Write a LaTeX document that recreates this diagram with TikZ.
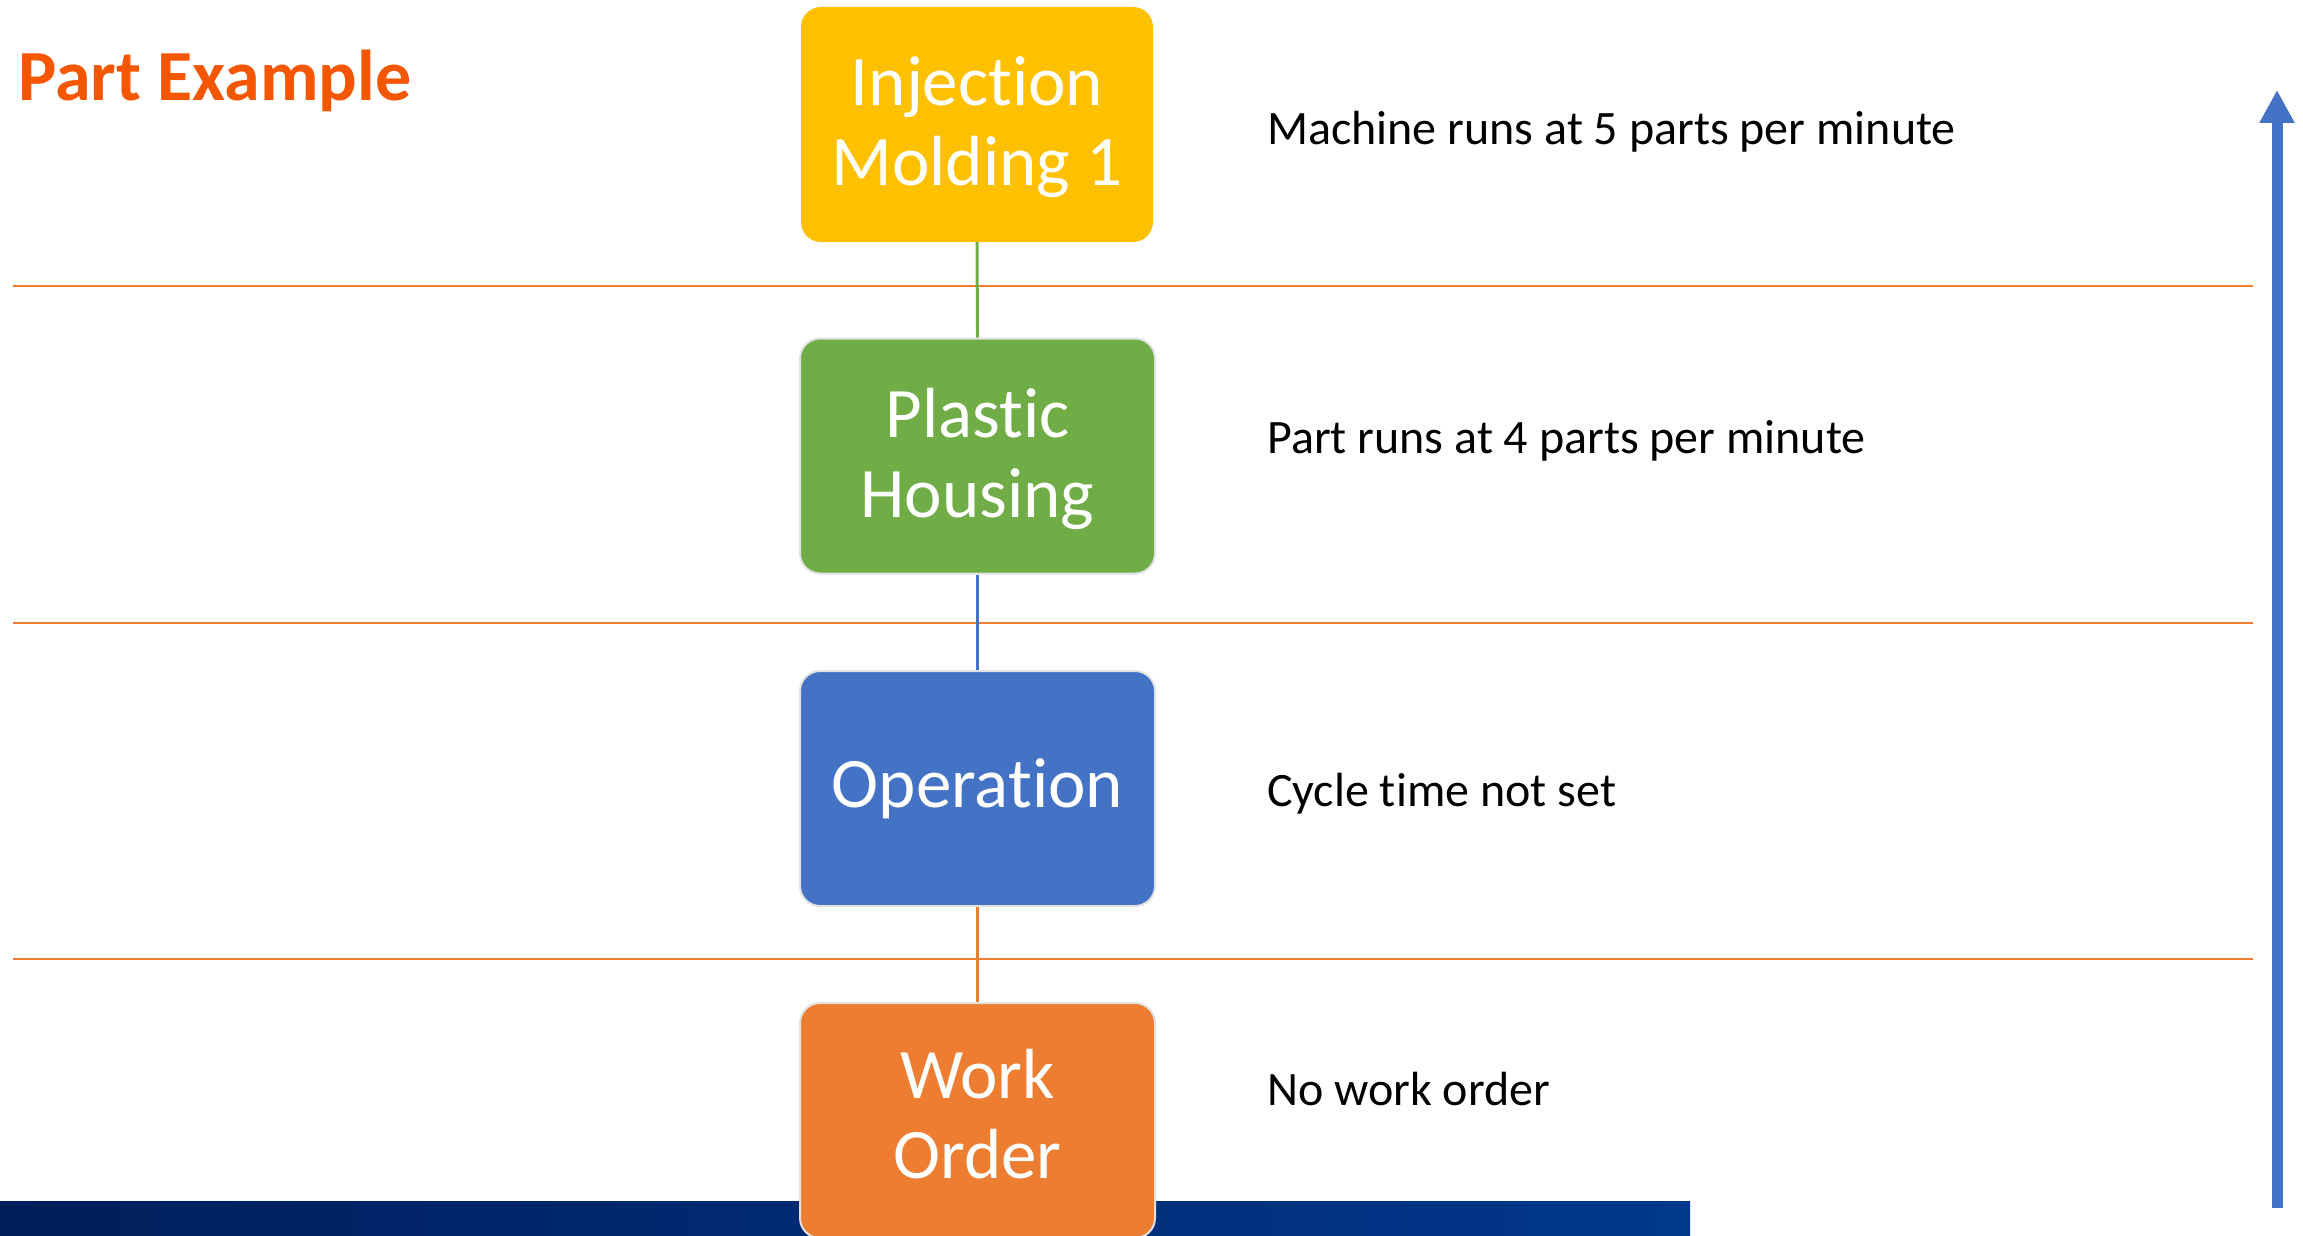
\documentclass[tikz,border=0pt]{standalone}
\usepackage{fontspec}
\setmainfont{Carlito}[Ligatures=NoCommon]
\usetikzlibrary{arrows.meta}
\definecolor{cyellow}{HTML}{FFC000}
\definecolor{cgreen}{HTML}{70AD47}
\definecolor{cblue}{HTML}{4472C4}
\definecolor{corange}{HTML}{ED7D31}
\definecolor{ctitle}{RGB}{245,86,0}
\definecolor{cnavyL}{RGB}{0,30,90}
\definecolor{cnavyR}{RGB}{0,56,140}
\definecolor{cedge}{RGB}{225,225,225}
\tikzset{
  stagebox/.style={rectangle, rounded corners=20pt, inner sep=0pt,
    minimum width=355pt, minimum height=235pt},
  boxtext/.style={inner sep=0pt, align=center, text=white, font=\fontsize{71}{80}\selectfont},
  edged/.style={draw=cedge, line width=2pt},
  desc/.style={anchor=base west, inner sep=0pt, font=\fontsize{48}{58}\selectfont, text=black},
  sep/.style={draw=corange, line width=2pt},
  link/.style={line width=3pt}
}
\begin{document}
\begin{tikzpicture}[x=1pt,y=-1pt]
\useasboundingbox (0,0) rectangle (2303,1236);
% bottom bar
\shade[left color=cnavyL, right color=cnavyR] (0,1201) rectangle (1690,1236);
% separators
\coordinate (s1l) at (13,286); \coordinate (s1r) at (2253,286);
\coordinate (s2l) at (13,623); \coordinate (s2r) at (2253,623);
\coordinate (s3l) at (13,959); \coordinate (s3r) at (2253,959);
\draw[sep] (s1l) -- (s1r);
\draw[sep] (s2l) -- (s2r);
\draw[sep] (s3l) -- (s3r);
% boxes
\node[stagebox, fill=cyellow, minimum width=352pt] (b1) at (977,124.5) {};
\node[stagebox, fill=cgreen, edged] (b2) at (977.5,456) {};
\node[stagebox, fill=cblue, edged] (b3) at (977.5,788.5) {};
\node[stagebox, fill=corange, edged] (b4) at (977.5,1120.5) {};
\node[boxtext] (t1) at ([yshift=-3pt]b1.center) {Injection\\Molding 1};
\node[boxtext] (t2) at ([yshift=-3pt]b2.center) {Plastic\\Housing};
\node[boxtext] (t3) at (b3.center) {Operation};
\node[boxtext] (t4) at ([yshift=6pt]b4.center) {Work\\Order};
% connectors
\draw[link, cgreen] (b1.south) -- (b2.north);
\draw[link, cblue] (b2.south) -- (b3.north);
\draw[link, corange] (b3.south) -- (b4.north);
% descriptions
\node[desc] (d1) at (1267,145) {Machine runs at 5 parts per minute};
\node[desc] (d2) at (1267,453) {Part runs at 4 parts per minute};
\node[desc] (d3) at (1267,806) {Cycle time not set};
\node[desc] (d4) at (1267,1105.5) {No work order};
% title
\node[anchor=base west, inner sep=0pt, text=ctitle, font=\fontsize{72}{80}\selectfont\bfseries] (title) at (18,101) {Part Example};
% big arrow
\coordinate (abot) at (2277,1208);
\coordinate (atop) at (2277,90);
\draw[cblue, line width=11pt, -{Triangle[width=33pt,length=33pt]}] (abot) -- (atop);
\end{tikzpicture}
\end{document}
